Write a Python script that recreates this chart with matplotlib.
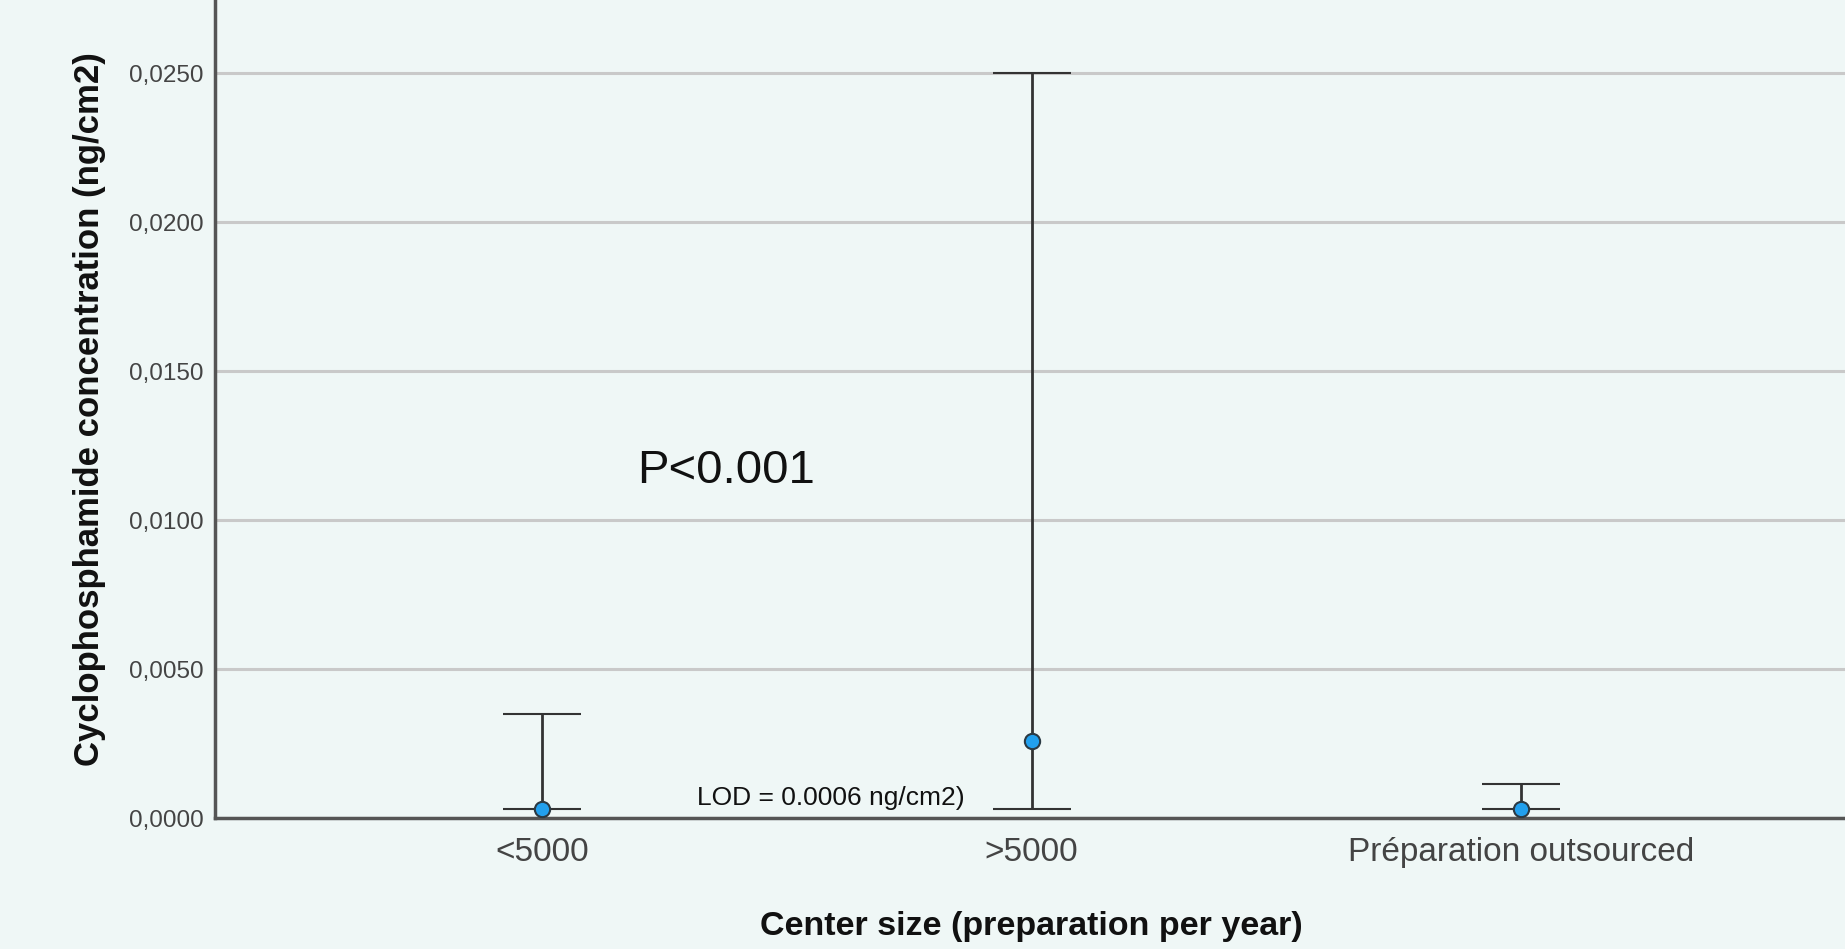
import matplotlib
matplotlib.use("Agg")
import matplotlib.pyplot as plt
import numpy as np

plt.rcParams['font.family'] = ['Liberation Sans', 'DejaVu Sans']

categories = ["<5000", ">5000", "Préparation outsourced"]
means = [0.0003, 0.00257, 0.0003]
lows = [0.0003, 0.0003, 0.0003]
highs = [0.0035, 0.0250, 0.00115]
yticks = [0.0, 0.005, 0.010, 0.015, 0.020, 0.025]
ytick_labels = ["0,0000", "0,0050", "0,0100", "0,0150", "0,0200", "0,0250"]

bg = "#EFF7F6"
W, H = 1845, 949
fig = plt.figure(figsize=(W / 100, H / 100), dpi=100, facecolor=bg)
ax = fig.add_axes([215 / W, (H - 818) / H, (1848 - 215) / W, 818 / H])
ax.set_facecolor(bg)

x = np.arange(len(categories))
means_a = np.array(means)
yerr = np.vstack([means_a - np.array(lows), np.array(highs) - means_a])

ax.set_axisbelow(True)
ax.yaxis.grid(True, color="#C9C9C9", linewidth=2.2)
ax.errorbar(x, means_a, yerr=yerr, fmt='o', color="#333333", ecolor="#333333",
            elinewidth=2.0, capsize=28, capthick=2.0,
            markerfacecolor="#22A0EE", markeredgecolor="#2B3A44",
            markeredgewidth=1.5, markersize=11, zorder=3)

ax.set_xlim(-0.667, 2.667)
ax.set_ylim(0, 0.02745)
ax.set_xticks(x)
ax.set_xticklabels(categories, fontsize=24, color="#444444")
ax.set_yticks(yticks)
ax.set_yticklabels(ytick_labels, fontsize=17.5, color="#444444")
ax.tick_params(axis='both', length=0)
ax.tick_params(axis='x', pad=14)
ax.tick_params(axis='y', pad=8)

for s in ['top', 'right']:
    ax.spines[s].set_visible(False)
for s in ['left', 'bottom']:
    ax.spines[s].set_color("#555555")
    ax.spines[s].set_linewidth(2.5)

ax.set_xlabel("Center size (preparation per year)", fontsize=24.5, fontweight='bold',
              color="#111111", labelpad=30.5)
ax.set_ylabel("Cyclophosphamide concentration (ng/cm2)", fontsize=25, fontweight='bold',
              color="#111111", labelpad=17)

ax.text(0.194, 0.01164, "P<0.001", fontsize=34, color="#111111", ha='left', va='center')
ax.text(0.318, 0.00067, "LOD = 0.0006 ng/cm2)", fontsize=19, color="#111111",
        ha='left', va='center')

fig.savefig("out.png", dpi=100, facecolor=bg)
